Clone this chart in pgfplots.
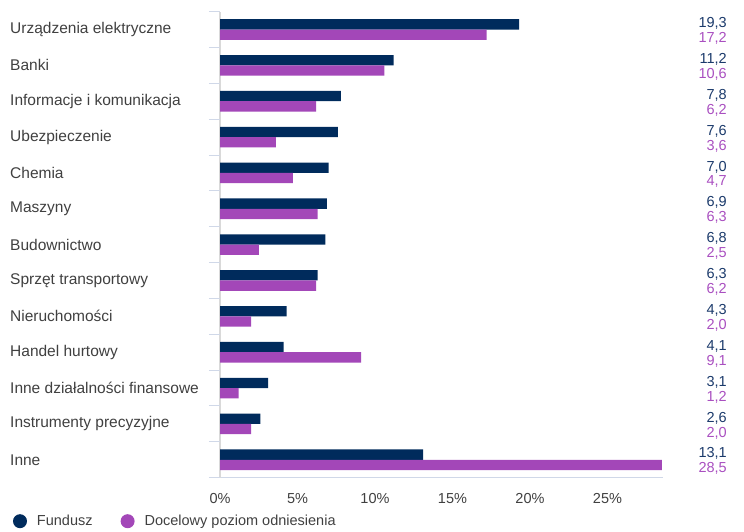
\documentclass[border=0pt]{standalone}
\usepackage{fontspec}
\setmainfont{Liberation Sans}
\usepackage{pgfplots}
\usepackage{pgfplotstable}
\pgfplotsset{compat=1.18}
\definecolor{navy}{HTML}{002B5C}
\definecolor{purp}{HTML}{A347B8}
\definecolor{navytxt}{HTML}{1B3A6B}
\definecolor{purptxt}{HTML}{A94FC0}
\definecolor{txt}{HTML}{404040}
\definecolor{gridc}{HTML}{D0D8E8}
\definecolor{axc}{HTML}{D9D9D9}
\pgfplotstableread{
idx fund bench
12 19.3 17.2
11 11.2 10.6
10 7.8 6.2
9 7.6 3.6
8 7.0 4.7
7 6.9 6.3
6 6.8 2.5
5 6.3 6.2
4 4.3 2.0
3 4.1 9.1
2 3.1 1.2
1 2.6 2.0
0 13.1 28.5
}\data
\begin{document}
\begin{tikzpicture}
\useasboundingbox (0,0) rectangle (744pt,532pt);
\begin{axis}[
  at={(220pt,54.3pt)}, anchor=south west,
  scale only axis, width=443.3pt, height=466.1pt,
  xmin=0, xmax=28.6, ymin=-0.5, ymax=12.5,
  clip=false,
  axis x line*=bottom, axis y line*=left,
  x axis line style={draw=gridc, line width=0.8pt, -},
  y axis line style={draw=axc, line width=1.6pt, -},
  xtick={0,5,...,25},
  xticklabel={\pgfmathprintnumber{\tick}\%},
  x tick label style={font=\fontsize{14.5}{16}\selectfont, text=txt, yshift=-12pt},
  major x tick style={draw=none},
  major tick length=0pt,
  ytick={0,...,12},
  yticklabels={Inne, Instrumenty precyzyjne, Inne działalności finansowe, Handel hurtowy, Nieruchomości, Sprzęt transportowy, Budownictwo, Maszyny, Chemia, Ubezpieczenie, Informacje i komunikacja, Banki, Urządzenia elektryczne},
  y tick label style={font=\fontsize{15.5}{18}\selectfont, text=txt, anchor=west, inner sep=0pt, xshift=-210pt},
  major y tick style={draw=gridc, line width=1pt},
  extra y ticks={-0.5,0.5,...,12.5},
  extra y tick labels={},
  extra tick style={tick align=outside, major tick length=11pt},
  /pgf/number format/assume math mode=true,
  legend columns=2,
  legend style={draw=none, fill=none, inner sep=0pt, outer sep=0pt,
    at={(axis description cs:0,0)}, anchor=west, xshift=-207pt, yshift=-43.5pt,
    font=\fontsize{14.5}{16}\selectfont, text=txt,
    /tikz/every even column/.append style={column sep=26pt},
    nodes={inner sep=2pt}},
  legend image code/.code={\fill[#1] (0pt,0pt) circle (7pt); \path (15pt,0pt);},
]
\addplot[xbar, bar width=10.3pt, bar shift=5.15pt, fill=navy, draw=none] table[x=fund, y=idx]{\data};
\addlegendentry{Fundusz}
\addplot[xbar, bar width=10.3pt, bar shift=-5.15pt, fill=purp, draw=none] table[x=bench, y=idx]{\data};
\addlegendentry{Docelowy poziom odniesienia}
\addplot[forget plot, draw=none, mark=none, point meta=explicit,
  nodes near coords,
  every node near coord/.style={anchor=east, inner sep=0pt, yshift=6pt, text=navytxt, font=\fontsize{14.5}{16}\selectfont,
    /pgf/number format/.cd, fixed, fixed zerofill, precision=1, use comma, assume math mode=true}]
  table[x expr=32.71, y=idx, meta=fund]{\data};
\addplot[forget plot, draw=none, mark=none, point meta=explicit,
  nodes near coords,
  every node near coord/.style={anchor=east, inner sep=0pt, yshift=-9pt, text=purptxt, font=\fontsize{14.5}{16}\selectfont,
    /pgf/number format/.cd, fixed, fixed zerofill, precision=1, use comma, assume math mode=true}]
  table[x expr=32.71, y=idx, meta=bench]{\data};
\end{axis}
\end{tikzpicture}
\end{document}
